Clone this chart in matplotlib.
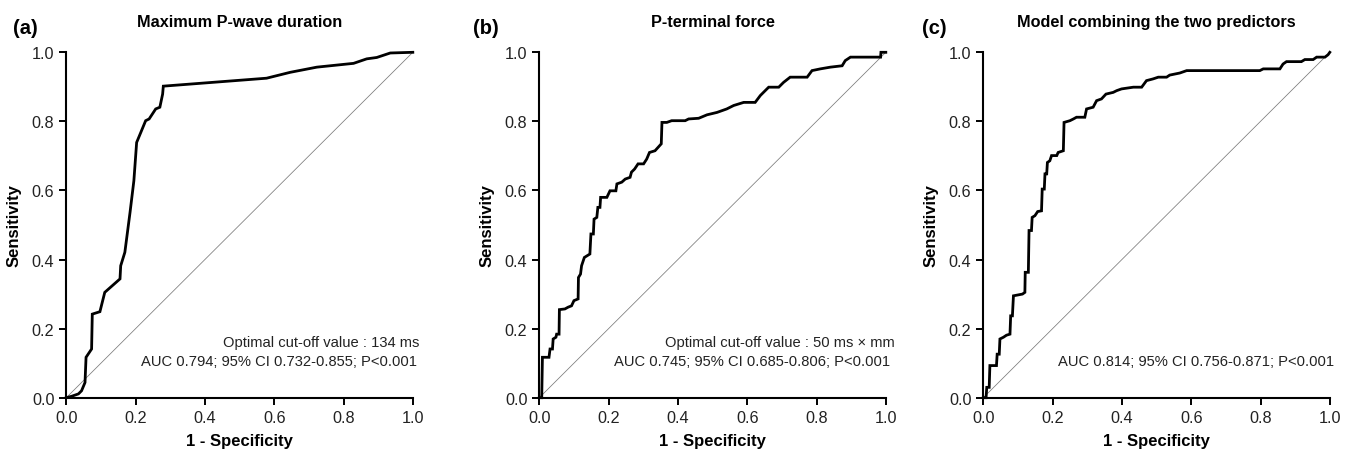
import matplotlib
matplotlib.use("Agg")
import matplotlib.pyplot as plt

plt.rcParams['font.family'] = ['Liberation Sans', 'DejaVu Sans']

# Panel (a): Maximum P-wave duration
fpr_a = [0.0, 0.015, 0.035, 0.044, 0.054, 0.057, 0.073, 0.075, 0.097, 0.111, 0.155, 0.157,
         0.169, 0.184, 0.195, 0.203, 0.215, 0.229, 0.239, 0.258, 0.270, 0.278, 0.280,
         0.578, 0.646, 0.723, 0.829, 0.867, 0.896, 0.935, 1.0]
tpr_a = [0.0, 0.004, 0.011, 0.020, 0.044, 0.117, 0.141, 0.242, 0.249, 0.305, 0.344, 0.382,
         0.421, 0.537, 0.628, 0.739, 0.768, 0.802, 0.807, 0.836, 0.841, 0.879, 0.902,
         0.925, 0.942, 0.957, 0.968, 0.981, 0.985, 0.998, 1.0]

# Panel (b): P-terminal force
fpr_b = [0.0, 0.007, 0.009, 0.028, 0.031, 0.038, 0.040, 0.048, 0.050, 0.057, 0.058, 0.074,
         0.083, 0.093, 0.100, 0.112, 0.113, 0.119, 0.122, 0.130, 0.146, 0.149, 0.156, 0.158,
         0.166, 0.169, 0.175, 0.177, 0.195, 0.204, 0.221, 0.224, 0.238, 0.248, 0.262, 0.266,
         0.275, 0.285, 0.301, 0.310, 0.318, 0.334, 0.352, 0.354, 0.368, 0.382, 0.421, 0.431,
         0.460, 0.484, 0.513, 0.541, 0.561, 0.590, 0.623, 0.638, 0.662, 0.691, 0.705, 0.724,
         0.773, 0.787, 0.811, 0.840, 0.874, 0.883, 0.898, 0.985, 0.986, 1.0]
tpr_b = [0.0, 0.0, 0.117, 0.117, 0.141, 0.141, 0.170, 0.175, 0.184, 0.184, 0.255, 0.257,
         0.262, 0.266, 0.281, 0.286, 0.348, 0.358, 0.382, 0.406, 0.416, 0.474, 0.474, 0.517,
         0.522, 0.551, 0.551, 0.580, 0.580, 0.599, 0.599, 0.619, 0.624, 0.633, 0.638, 0.653,
         0.662, 0.677, 0.677, 0.691, 0.710, 0.715, 0.735, 0.797, 0.797, 0.802, 0.802, 0.807,
         0.809, 0.819, 0.826, 0.836, 0.846, 0.855, 0.855, 0.875, 0.899, 0.899, 0.913, 0.928,
         0.928, 0.947, 0.952, 0.957, 0.961, 0.976, 0.986, 0.986, 1.0, 1.0]

# Panel (c): Model combining the two predictors
fpr_c = [0.0, 0.008, 0.010, 0.017, 0.019, 0.038, 0.040, 0.046, 0.048, 0.058, 0.067, 0.077,
         0.079, 0.084, 0.087, 0.113, 0.120, 0.121, 0.130, 0.132, 0.139, 0.141, 0.149, 0.157,
         0.168, 0.170, 0.176, 0.178, 0.183, 0.185, 0.192, 0.197, 0.212, 0.216, 0.231, 0.233,
         0.250, 0.260, 0.269, 0.293, 0.298, 0.317, 0.327, 0.341, 0.354, 0.375, 0.385, 0.399,
         0.433, 0.457, 0.471, 0.490, 0.505, 0.529, 0.538, 0.567, 0.587, 0.798, 0.808, 0.856,
         0.865, 0.875, 0.918, 0.928, 0.952, 0.962, 0.986, 0.995, 1.0]
tpr_c = [0.0, 0.0, 0.030, 0.030, 0.093, 0.093, 0.126, 0.126, 0.170, 0.175, 0.181, 0.184,
         0.237, 0.237, 0.295, 0.300, 0.305, 0.363, 0.363, 0.484, 0.484, 0.522, 0.527, 0.539,
         0.541, 0.604, 0.604, 0.648, 0.648, 0.681, 0.686, 0.701, 0.701, 0.710, 0.715, 0.797,
         0.802, 0.807, 0.812, 0.812, 0.836, 0.841, 0.860, 0.865, 0.879, 0.884, 0.889, 0.894,
         0.899, 0.899, 0.918, 0.923, 0.928, 0.928, 0.934, 0.940, 0.947, 0.947, 0.952, 0.952,
         0.966, 0.973, 0.973, 0.979, 0.979, 0.986, 0.986, 0.993, 1.0]

panel_labels = ["(a)", "(b)", "(c)"]
titles = ["Maximum P-wave duration", "P-terminal force", "Model combining the two predictors"]
annotations = [
    [("Optimal cut-off value : 134 ms", 1.020, 0.161),
     ("AUC 0.794; 95% CI 0.732-0.855; P<0.001", 1.013, 0.107)],
    [("Optimal cut-off value : 50 ms \u00d7 mm", 1.026, 0.161),
     ("AUC 0.745; 95% CI 0.685-0.806; P<0.001", 1.012, 0.107)],
    [("AUC 0.814; 95% CI 0.756-0.871; P<0.001", 1.012, 0.107)],
]
ticks = [0.0, 0.2, 0.4, 0.6, 0.8, 1.0]
tick_labels = ["0.0", "0.2", "0.4", "0.6", "0.8", "1.0"]

curves = [(fpr_a, tpr_a), (fpr_b, tpr_b), (fpr_c, tpr_c)]

fig = plt.figure(figsize=(13.5, 4.52), dpi=100)
lefts = [66.3, 539.3, 983.3]
label_x = [13, 473, 921.5]
W, H = 1350.0, 452.0
for i in range(3):
    ax = fig.add_axes([lefts[i] / W, (452 - 398.7) / H, 346.5 / W, 345.4 / H])
    fx, ty = curves[i]
    ax.plot([0, 1], [0, 1], color="#7a7a7a", lw=0.55, clip_on=False)
    ax.plot(fx, ty, color="black", lw=2.0, clip_on=False, solid_joinstyle="miter")
    ax.set_xlim(0, 1)
    ax.set_ylim(0, 1)
    ax.set_xticks(ticks)
    ax.set_xticklabels(tick_labels)
    ax.set_yticks(ticks)
    ax.set_yticklabels(tick_labels)
    for s in ["top", "right"]:
        ax.spines[s].set_visible(False)
    for s in ["left", "bottom"]:
        ax.spines[s].set_linewidth(1.5)
    ax.tick_params(direction="out", length=5, width=1.4, labelsize=11.7,
                   labelcolor="#222222", pad=3.5)
    ax.set_xlabel("1 - Specificity", fontsize=12, fontweight="bold")
    ax.set_ylabel("Sensitivity", fontsize=12, fontweight="bold")
    ax.xaxis.set_label_coords(0.5, -0.102)
    ax.yaxis.set_label_coords(-0.128, 0.5)
    ax.set_title(titles[i], fontsize=11.7, fontweight="bold", pad=19)
    for txt, x, y in annotations[i]:
        ax.text(x, y, txt, transform=ax.transAxes, ha="right", va="center",
                fontsize=10.6, color="#222222")
    fig.text(label_x[i] / W, (452 - 34) / H, panel_labels[i], fontsize=14.5,
             fontweight="bold", ha="left", va="baseline")

fig.savefig("out.png", dpi=100)
